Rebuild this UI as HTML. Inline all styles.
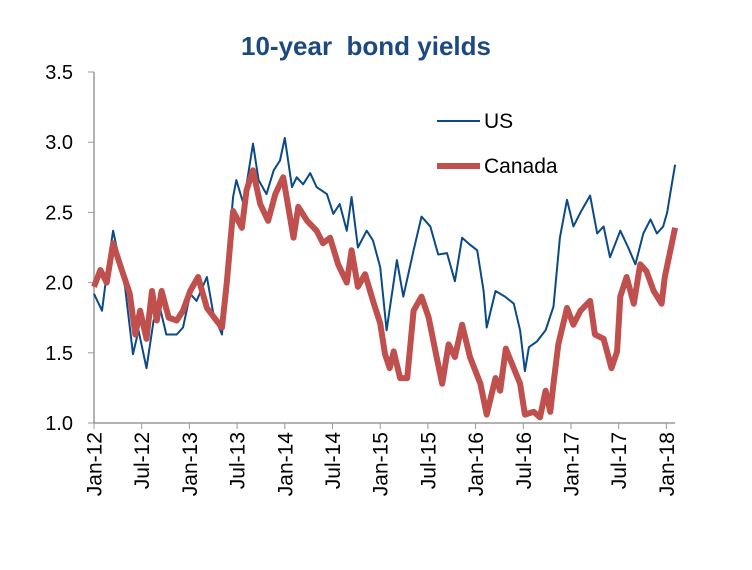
<!DOCTYPE html>
<html><head><meta charset="utf-8"><style>
body{margin:0;background:#fff;}
svg{display:block;font-family:"Liberation Sans",Arial,sans-serif;}
</style></head><body>
<svg id="chart" width="752" height="570" viewBox="0 0 752 570">
<text x="366" y="55" text-anchor="middle" font-size="26" font-weight="bold" fill="#1c4a80" xml:space="preserve">10-year  bond yields</text>
<g id="axes"></g>
<g id="series"></g>
<g>
<line x1="437" y1="121" x2="480" y2="121" stroke="#0b4a85" stroke-width="2"/>
<text x="484" y="128" font-size="21" fill="#000">US</text>
<line x1="437" y1="166" x2="480" y2="166" stroke="#c0504d" stroke-width="6"/>
<text x="484" y="173" font-size="21" fill="#000">Canada</text>
</g>
</svg>
<script>
const yTicks=[1.0,1.5,2.0,2.5,3.0,3.5];
const xTickLabels=["Jan-12","Jul-12","Jan-13","Jul-13","Jan-14","Jul-14","Jan-15","Jul-15","Jan-16","Jul-16","Jan-17","Jul-17","Jan-18"];
const usMonths=[0,1.0,1.6,2.4,3.3,3.9,4.9,5.6,6.6,7.5,8.3,9.1,10.4,11.2,12.1,12.9,14.2,15.0,16.1,16.7,17.5,17.9,18.8,20.0,20.7,21.7,22.6,23.4,24.0,24.9,25.5,26.3,27.2,28.0,29.3,30.1,30.9,31.8,32.4,33.2,34.3,35.1,36.0,36.8,38.1,38.9,40.2,41.2,42.3,43.3,44.4,45.4,46.3,47.3,48.2,49.0,49.4,50.5,51.7,52.8,53.6,54.2,54.7,55.7,56.8,57.8,58.6,59.5,60.3,61.2,62.4,63.3,64.1,64.9,66.2,67.2,68.1,69.1,70.0,70.8,71.6,72.1,72.5,73.1];
const usValues=[1.92,1.8,2.06,2.37,2.13,1.97,1.49,1.66,1.39,1.73,1.82,1.63,1.63,1.68,1.92,1.87,2.04,1.78,1.63,2.11,2.61,2.73,2.56,2.99,2.73,2.63,2.8,2.87,3.03,2.68,2.75,2.7,2.78,2.68,2.63,2.49,2.56,2.37,2.61,2.25,2.37,2.3,2.11,1.66,2.16,1.9,2.23,2.47,2.4,2.2,2.21,2.01,2.32,2.27,2.23,1.94,1.68,1.94,1.9,1.85,1.66,1.37,1.54,1.58,1.66,1.83,2.32,2.59,2.4,2.5,2.62,2.35,2.4,2.18,2.37,2.25,2.13,2.35,2.45,2.35,2.4,2.5,2.64,2.84];
const caMonths=[0,0.8,1.6,2.4,3.5,4.5,5.2,5.8,6.6,7.3,7.9,8.5,9.4,10.4,11.2,12.1,13.1,14.2,15.4,16.1,16.7,17.5,18.6,19.2,20.0,20.9,21.9,22.8,23.8,25.1,25.7,26.8,28.0,28.8,29.7,30.7,31.8,32.4,33.2,34.1,35.1,36.0,36.6,37.2,37.7,38.5,39.4,40.2,41.2,42.1,43.1,43.8,44.6,45.4,46.3,47.3,48.6,49.4,50.5,51.1,51.8,52.8,53.6,54.2,55.3,56.1,56.8,57.4,57.8,58.4,59.5,60.3,61.2,62.4,63.0,64.1,65.1,65.8,66.2,67.0,67.9,68.7,69.5,70.4,71.4,71.8,72.5,73.1];
const caValues=[1.97,2.09,2.0,2.28,2.09,1.92,1.63,1.8,1.6,1.94,1.73,1.94,1.75,1.73,1.8,1.94,2.04,1.82,1.73,1.68,2.0,2.51,2.39,2.66,2.8,2.56,2.44,2.63,2.75,2.32,2.54,2.44,2.37,2.28,2.32,2.13,2.0,2.23,1.97,2.06,1.87,1.71,1.49,1.39,1.51,1.32,1.32,1.8,1.9,1.75,1.47,1.28,1.56,1.47,1.7,1.47,1.28,1.06,1.32,1.23,1.53,1.39,1.28,1.06,1.08,1.04,1.23,1.08,1.28,1.56,1.82,1.7,1.8,1.87,1.63,1.6,1.39,1.51,1.9,2.04,1.85,2.13,2.08,1.94,1.85,2.04,2.23,2.39];

const NS="http://www.w3.org/2000/svg";
const X0=94, PXM=7.95, Y0=423, PXV=140.4;
function xScale(m){return X0+PXM*m;}
function yScale(v){return Y0-(v-1)*PXV;}
const axes=document.getElementById('axes');
function mk(tag,attrs,parent){const e=document.createElementNS(NS,tag);for(const k in attrs)e.setAttribute(k,attrs[k]);parent.appendChild(e);return e;}
const ya=mk('line',{x1:X0,y1:72,x2:X0,y2:Y0,stroke:'#999','stroke-width':1.5},axes);


const xa=mk('line',{x1:X0,y1:Y0,x2:675,y2:Y0,stroke:'#666','stroke-width':1},axes);


yTicks.forEach(v=>{
  const y=yScale(v);
  const t=mk('line',{x1:X0-6,y1:y,x2:X0,y2:y,stroke:'#999','stroke-width':1},axes);
  
  
  const l=mk('text',{x:73,y:y+7,'text-anchor':'end','font-size':20,fill:'#000'},axes);
  l.textContent=v.toFixed(1);
  
  
});
xTickLabels.forEach((lab,i)=>{
  const x=xScale(i*6);
  const t=mk('line',{x1:x,y1:Y0,x2:x,y2:Y0+6,stroke:'#999','stroke-width':1},axes);
  
  
  const l=mk('text',{x:0,y:0,'text-anchor':'end','font-size':21,fill:'#000',transform:`translate(${x+7.5},${Y0+9}) rotate(-90)`},axes);
  l.textContent=lab;
  
  
});
const series=document.getElementById('series');
function line(ms,vs,color,w){
  let d='';ms.forEach((m,i)=>{d+=(i?'L':'M')+xScale(m).toFixed(1)+','+yScale(vs[i]).toFixed(1);});
  return mk('path',{d:d,fill:'none',stroke:color,'stroke-width':w,'stroke-linejoin':'round'},series);
}
const us=line(usMonths,usValues,'#0b4a85',2);


const ca=line(caMonths,caValues,'#c0504d',6);


</script>
</body></html>
